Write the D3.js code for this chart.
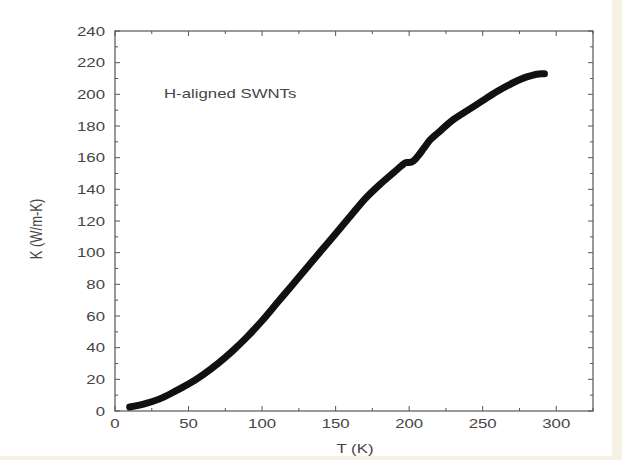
<!DOCTYPE html>
<html>
<head>
    <script src="https://d3js.org/d3.v7.min.js"></script>
    <style>
        body { margin: 0; background: #fff; }
        text { font-family: "Liberation Sans", Arial, sans-serif; fill: #454545; }
    </style>
</head>
<body>
<script>
    // measured T (K) and thermal conductivity K (W/m-K)
    let temps = [10, 20, 30, 40, 50, 60, 70, 80, 90, 100, 110, 120, 130, 140, 150, 160, 170, 180, 190, 195, 198, 200, 203, 206, 210, 214, 220, 230, 240, 250, 260, 270, 280, 290, 292];
    let kvals = [2.5, 4.5, 7.5, 12, 17, 23, 30, 38, 47, 57, 68, 79, 90, 101, 112, 123, 134, 143, 151, 155, 157, 157, 158, 161, 166, 171, 176, 184, 190, 196, 202, 207, 211, 213, 213];
    let xTicks = [0, 50, 100, 150, 200, 250, 300];
    let yTicks = [0, 20, 40, 60, 80, 100, 120, 140, 160, 180, 200, 220, 240];

    let width = 622;
    let height = 460;
    let stretch = 1.4; // the scanned figure is widened horizontally

    let svg = d3.select("body").append("svg")
        .attr("width", width)
        .attr("height", height);

    // beige frame strips from the scan
    svg.append("rect").attr("x", 612).attr("y", 0).attr("width", 10).attr("height", height).attr("fill", "#f6f1e2");
    svg.append("rect").attr("x", 0).attr("y", 456).attr("width", width).attr("height", 4).attr("fill", "#f6f1e2");

    let plotLeft = 115, plotRight = 593, plotTop = 31, plotBottom = 411;

    let x = d3.scaleLinear().domain([0, 325]).range([plotLeft, plotRight]);
    let y = d3.scaleLinear().domain([0, 240]).range([plotBottom, plotTop]);

    let axisColor = "#555";

    // frame
    svg.append("rect")
        .attr("x", plotLeft).attr("y", plotTop)
        .attr("width", plotRight - plotLeft).attr("height", plotBottom - plotTop)
        .attr("fill", "none").attr("stroke", axisColor).attr("stroke-width", 1.2);

    let xMinor = d3.range(0, 326, 25);
    let yMinor = d3.range(0, 241, 10);

    // ticks on all four sides, pointing inward
    let tickG = svg.append("g").attr("stroke", axisColor).attr("stroke-width", 1);
    xMinor.forEach(v => {
        let len = v % 50 === 0 ? 5 : 3;
        tickG.append("line").attr("x1", x(v)).attr("x2", x(v)).attr("y1", plotBottom).attr("y2", plotBottom - len);
        tickG.append("line").attr("x1", x(v)).attr("x2", x(v)).attr("y1", plotTop).attr("y2", plotTop + len);
    });
    yMinor.forEach(v => {
        let len = v % 20 === 0 ? 5 : 3;
        tickG.append("line").attr("x1", plotLeft).attr("x2", plotLeft + len).attr("y1", y(v)).attr("y2", y(v));
        tickG.append("line").attr("x1", plotRight).attr("x2", plotRight - len).attr("y1", y(v)).attr("y2", y(v));
    });

    // tick labels
    svg.selectAll(".xlabel")
        .data(xTicks)
        .join("text")
        .attr("class", "xlabel")
        .attr("transform", d => `translate(${x(d)},428) scale(${stretch},1)`)
        .attr("text-anchor", "middle")
        .attr("font-size", 12)
        .text(d => d);

    svg.selectAll(".ylabel")
        .data(yTicks)
        .join("text")
        .attr("class", "ylabel")
        .attr("transform", d => `translate(105,${y(d) + 4.5}) scale(${stretch},1)`)
        .attr("text-anchor", "end")
        .attr("font-size", 12)
        .text(d => d);

    // axis titles
    svg.append("text")
        .attr("transform", `translate(355,453) scale(${stretch},1)`)
        .attr("text-anchor", "middle")
        .attr("font-size", 12)
        .text("T (K)");

    svg.append("text")
        .attr("transform", `translate(42,229) scale(1.3,1) rotate(-90)`)
        .attr("text-anchor", "middle")
        .attr("font-size", 13)
        .text("K (W/m-K)");

    svg.append("text")
        .attr("transform", `translate(164,98) scale(${stretch},1)`)
        .attr("font-size", 12)
        .text("H-aligned SWNTs");

    // data curve
    let points = temps.map((t, i) => [t, kvals[i]]);
    let line = d3.line()
        .x(d => x(d[0]))
        .y(d => y(d[1]))
        .curve(d3.curveMonotoneX);

    svg.append("path")
        .datum(points)
        .attr("d", line)
        .attr("fill", "none")
        .attr("stroke", "#111")
        .attr("stroke-width", 7)
        .attr("stroke-linecap", "round")
        .attr("stroke-linejoin", "round");
</script>
</body>
</html>
